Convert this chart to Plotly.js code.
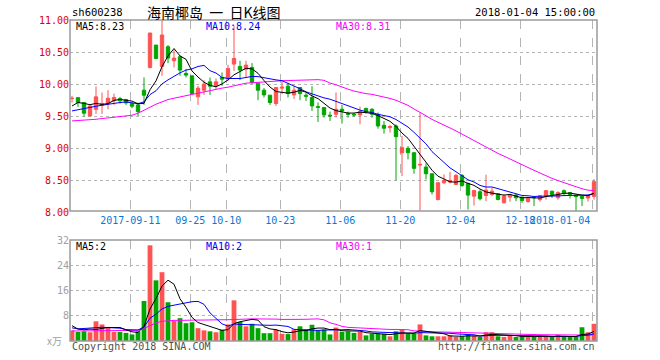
<!DOCTYPE html>
<html>
<head>
<meta charset="utf-8">
<script src="https://cdn.plot.ly/plotly-3.0.1.min.js"></script>
<style>html,body{margin:0;padding:0;background:#fff;}#chart{width:660px;height:360px;}</style>
</head>
<body>
<div id="chart"></div>
<script>
// ---- data ----
const dates = [
 '2017-08-28','2017-08-29','2017-08-30','2017-08-31','2017-09-01','2017-09-04','2017-09-05','2017-09-06','2017-09-07','2017-09-08',
 '2017-09-11','2017-09-12','2017-09-13','2017-09-14','2017-09-15','2017-09-18','2017-09-19','2017-09-20','2017-09-21','2017-09-22',
 '2017-09-25','2017-09-26','2017-09-27','2017-09-28','2017-09-29','2017-10-09','2017-10-10','2017-10-11','2017-10-12','2017-10-13',
 '2017-10-16','2017-10-17','2017-10-18','2017-10-19','2017-10-20','2017-10-23','2017-10-24','2017-10-25','2017-10-26','2017-10-27',
 '2017-10-30','2017-10-31','2017-11-01','2017-11-02','2017-11-03','2017-11-06','2017-11-07','2017-11-08','2017-11-09','2017-11-10',
 '2017-11-13','2017-11-14','2017-11-15','2017-11-16','2017-11-17','2017-11-20','2017-11-21','2017-11-22','2017-11-23','2017-11-24',
 '2017-11-27','2017-11-28','2017-11-29','2017-11-30','2017-12-01','2017-12-04','2017-12-05','2017-12-06','2017-12-07','2017-12-08',
 '2017-12-11','2017-12-12','2017-12-13','2017-12-14','2017-12-15','2017-12-18','2017-12-19','2017-12-20','2017-12-21','2017-12-22',
 '2017-12-25','2017-12-26','2017-12-27','2017-12-28','2017-12-29','2018-01-02','2018-01-03','2018-01-04'];

const openP = [9.776,9.79,9.714,9.505,9.609,9.672,9.698,9.740,9.776,9.760,
 9.698,9.677,9.906,10.260,10.609,10.276,10.583,10.365,10.427,10.167,
 10.130,9.802,9.906,10.036,9.974,10.104,10.089,10.313,10.276,10.234,
 10.26,10.016,9.906,9.828,9.698,9.938,9.969,9.833,9.948,9.828,
 9.792,9.65,9.635,9.516,9.531,9.609,9.542,9.531,9.521,9.62,
 9.609,9.531,9.359,9.323,9.349,8.932,9.0,8.932,8.74,8.708,
 8.604,8.203,8.464,8.474,8.437,8.578,8.453,8.255,8.323,8.266,
 8.281,8.292,8.151,8.24,8.271,8.24,8.172,8.234,8.20,8.25,
 8.33,8.23,8.34,8.31,8.27,8.25,8.225,8.25];
const highP = [9.818,9.79,9.72,9.67,9.964,9.870,9.906,9.854,9.802,9.771,
 9.714,9.714,10.105,10.80,10.61,11.0,10.609,10.531,10.443,10.234,
 10.13,9.974,10.0625,10.104,10.088,10.182,10.302,10.911,10.365,10.365,
 10.328,10.016,9.938,9.828,9.948,10.042,10.02,9.974,9.948,9.87,
 9.969,9.714,9.64,9.573,9.870,9.677,9.573,9.55,9.651,9.635,
 9.625,9.557,9.427,9.365,9.375,9.193,9.036,8.932,9.557,8.766,
 8.604,8.464,8.594,8.635,8.6,8.6,8.464,8.344,8.359,8.589,
 8.385,8.292,8.281,8.281,8.292,8.24,8.234,8.255,8.27,8.35,
 8.345,8.33,8.36,8.32,8.28,8.26,8.28,8.52];
const lowP = [9.714,9.646,9.495,9.50,9.536,9.536,9.609,9.677,9.698,9.677,
 9.625,9.505,9.678,10.245,10.39,10.130,10.328,10.260,10.13,10.104,
 9.83,9.677,9.833,9.833,9.922,9.974,10.052,10.208,10.063,10.104,
 10.0,9.75,9.792,9.677,9.661,9.844,9.792,9.77,9.75,9.74,
 9.583,9.411,9.479,9.427,9.479,9.385,9.479,9.49,9.375,9.542,
 9.479,9.307,9.229,9.245,8.5,8.568,8.828,8.604,8.03,8.516,
 8.281,8.188,8.443,8.453,8.43,8.4,8.047,8.109,8.188,8.177,
 8.255,8.188,8.141,8.167,8.177,8.151,8.151,8.1,8.17,8.2,
 8.225,8.2,8.26,8.22,8.02,8.1,8.17,8.2];
const closeP = [9.78,9.714,9.547,9.661,9.802,9.698,9.781,9.792,9.740,9.708,
 9.656,9.573,9.828,10.797,10.401,10.766,10.406,10.406,10.219,10.141,
 9.854,9.938,10.0,9.969,10.036,10.078,10.245,10.401,10.219,10.297,
 10.026,9.906,9.833,9.714,9.948,9.953,9.854,9.906,9.854,9.813,
 9.661,9.64,9.521,9.505,9.609,9.583,9.531,9.521,9.573,9.573,
 9.531,9.349,9.313,9.339,9.182,9.01,8.932,8.688,8.75,8.604,
 8.323,8.464,8.5,8.5,8.578,8.422,8.271,8.344,8.214,8.349,
 8.333,8.203,8.255,8.27,8.229,8.188,8.224,8.229,8.26,8.34,
 8.28,8.31,8.30,8.28,8.25,8.22,8.26,8.48];
// volume in 10k shares (万)
const volume = [3.4,2.9,3.1,2.8,6.3,5.3,4.2,2.9,2.9,2.6,
 2.1,3.1,12.8,30.6,19.4,22.0,12.4,6.4,7.3,5.7,
 6.0,4.1,3.4,3.1,2.8,3.6,5.3,13.0,6.1,4.7,
 5.5,4.1,2.5,2.5,3.6,2.3,2.2,3.7,4.7,3.7,
 5.2,3.4,3.7,2.1,4.3,2.9,3.1,2.6,2.9,1.8,
 2.3,2.3,2.3,1.5,3.1,3.6,2.3,2.3,5.3,1.8,
 1.5,1.5,1.5,1.8,1.3,1.5,2.1,1.7,1.3,2.8,
 2.8,1.5,1.3,1.7,1.3,1.3,1.7,1.3,1.7,1.3,
 1.3,2.0,1.3,1.3,1.3,4.4,2.8,5.5];
// moving-average values before enough history exists
const ma5Head = [9.66,9.714,9.70,9.68];
const ma10Head = [9.583,9.604,9.625,9.64,9.656,9.672,9.688,9.70,9.714];
const ma30Head = [9.427,9.432,9.443,9.448,9.453,9.464,9.469,9.484,9.495,9.505,
 9.516,9.547,9.594,9.646,9.688,9.724,9.760,9.781,9.802,9.823,
 9.839,9.854,9.880,9.901,9.917,9.938,9.953,9.969,9.995];
const vma5Head = [4.9,3.8,3.6,3.8];
const vma10Head = [4.2,3.9,4.0,4.2,4.3,4.4,4.3,4.2,4.1];
const vma30Head = [3.2,3.2,3.2,3.2,3.2,3.2,3.2,3.2,3.2,3.2,3.3,3.4,4.0,5.0,5.8,6.3,6.5,6.6,6.6,6.7,6.7,6.7,6.7,6.8,6.8,6.8,6.8,6.8,6.9];
const tickDates = ['2017-09-11','2017-09-25','2017-10-10','2017-10-23','2017-11-06','2017-11-20','2017-12-04','2017-12-18','2018-01-04'];
const tickText = ['2017-09-11','09-25','10-10','10-23','11-06','11-20','12-04','12-18','2018-01-04'];
const priceTicks = [8.0,8.5,9.0,9.5,10.0,10.5,11.0];
const volTicks = [8,16,24,32];
const labels = {code:'sh600238', title:'海南椰岛\u00a0\u00a0一\u00a0\u00a0日K线图', time:'2018-01-04 15:00:00',
  ma5:'MA5:8.23', ma10:'MA10:8.24', ma30:'MA30:8.31', vma5:'MA5:2', vma10:'MA10:2', vma30:'MA30:1',
  unit:'x万', copy:'Copyright 2018 SINA.COM', url:'http://finance.sina.com.cn'};

// ---- build ----
const RED = '#ff5252', GREEN = '#00a600';
const idx = dates.map((d,i)=>i);
function movAvg(arr, n, head){
  return arr.map((v,i)=>{
    if(i < n-1) return head[i];
    let s=0; for(let k=i-n+1;k<=i;k++) s+=arr[k];
    return s/n;
  });
}
const ma5 = movAvg(closeP,5,ma5Head), ma10 = movAvg(closeP,10,ma10Head), ma30 = movAvg(closeP,30,ma30Head);
const vma5 = movAvg(volume,5,vma5Head), vma10 = movAvg(volume,10,vma10Head), vma30 = movAvg(volume,30,vma30Head);
const volColors = idx.map(i => closeP[i] >= openP[i] ? RED : GREEN);
const tickPos = tickDates.map(d => dates.indexOf(d) - 0.28);
// the last date label sits inside the plot, right-aligned to its grid line
const tickShown = tickText.map((t,k)=> k === tickText.length-1 ? '' : t);

const mono = 'DejaVu Sans Mono, Liberation Mono, monospace';
const W = 660, H = 360, L = 70, R = 597, T = 20, B = 341;
const px = x => (x - L)/(R - L);
const py = y => (B - y)/(B - T);
const xToPaper = v => (v - (-0.333))/(87.5 - (-0.333));

const traces = [
  {type:'candlestick', x:idx, open:openP, high:highP, low:lowP, close:closeP, xaxis:'x', yaxis:'y',
   increasing:{line:{color:RED,width:1}, fillcolor:RED}, decreasing:{line:{color:GREEN,width:1}, fillcolor:GREEN},
   whiskerwidth:0, hoverinfo:'skip', showlegend:false},
  {type:'scatter', mode:'lines', x:idx, y:ma30, line:{color:'#ff00ff',width:1}, xaxis:'x', yaxis:'y', hoverinfo:'skip', showlegend:false},
  {type:'scatter', mode:'lines', x:idx, y:ma10, line:{color:'#0000ff',width:1}, xaxis:'x', yaxis:'y', hoverinfo:'skip', showlegend:false},
  {type:'scatter', mode:'lines', x:idx, y:ma5, line:{color:'#000000',width:1}, xaxis:'x', yaxis:'y', hoverinfo:'skip', showlegend:false},
  {type:'bar', x:idx, y:volume, marker:{color:volColors, line:{width:0}}, width:0.8, xaxis:'x', yaxis:'y2', hoverinfo:'skip', showlegend:false},
  {type:'scatter', mode:'lines', x:idx, y:vma30, line:{color:'#ff00ff',width:1}, xaxis:'x', yaxis:'y2', hoverinfo:'skip', showlegend:false},
  {type:'scatter', mode:'lines', x:idx, y:vma10, line:{color:'#0000ff',width:1}, xaxis:'x', yaxis:'y2', hoverinfo:'skip', showlegend:false},
  {type:'scatter', mode:'lines', x:idx, y:vma5, line:{color:'#000000',width:1}, xaxis:'x', yaxis:'y2', hoverinfo:'skip', showlegend:false}
];

function ann(text, x, y, color, anchor, size, family){
  return {text:text, xref:'paper', yref:'paper', x:px(x), y:py(y), xanchor:anchor||'left', yanchor:'middle',
    showarrow:false, font:{family:family||mono, size:size||10, color:color||'#000'}};
}

const lastTick = {text:tickText[tickText.length-1], xref:'paper', yref:'paper',
  x:xToPaper(tickPos[tickPos.length-1]), y:py(220.5), xanchor:'right', yanchor:'middle', showarrow:false,
  font:{family:mono, size:10, color:'#0a78d2'}};

const layout = {
  width:W, height:H, margin:{l:L, r:W-R, t:T, b:H-B, pad:0},
  paper_bgcolor:'#fff', plot_bgcolor:'#fff', showlegend:false, boxgap:0.2,
  xaxis:{range:[-0.333, 87.5], tickmode:'array', tickvals:tickPos, ticktext:tickShown, anchor:'y',
    tickfont:{family:mono, size:10, color:'#0a78d2'}, ticks:'', showgrid:true, gridcolor:'#b4b4b4', griddash:'dash', gridwidth:1,
    zeroline:false, showline:false, rangeslider:{visible:false}, fixedrange:true},
  yaxis:{domain:[py(212.5), 1], range:[8.0, 11.0], tickmode:'array', tickvals:priceTicks, tickformat:'.2f',
    tickfont:{family:mono, size:10, color:'#e00000'}, ticks:'', showgrid:true, gridcolor:'#b4b4b4', griddash:'dot',
    zeroline:false, showline:false},
  yaxis2:{domain:[0, py(240)], range:[0, 32.3], tickmode:'array', tickvals:volTicks, anchor:'x',
    tickfont:{family:mono, size:10, color:'#a0a0a0'}, ticks:'', showgrid:true, gridcolor:'#b4b4b4', griddash:'dot',
    zeroline:false, showline:false},
  shapes:[
    {type:'rect', xref:'paper', yref:'paper', x0:0, x1:1, y0:py(211), y1:1, line:{color:'#9a9a9a', width:1.5}},
    {type:'rect', xref:'paper', yref:'paper', x0:0, x1:1, y0:0, y1:py(240), line:{color:'#9a9a9a', width:1.5}}
  ],
  annotations:[
    lastTick,
    ann(labels.code, 70, 12, '#000', 'left', 10.5),
    ann(labels.title, 214, 12, '#000', 'center', 14, 'Noto Sans CJK SC'),
    ann(labels.time, 597, 12, '#000', 'right', 10.5),
    ann(labels.ma5, 74, 26, '#000', 'left'),
    ann(labels.ma10, 204, 26, '#0000ff', 'left'),
    ann(labels.ma30, 334, 26, '#ff00ff', 'left'),
    ann(labels.vma5, 74, 246, '#000', 'left'),
    ann(labels.vma10, 204, 246, '#0000ff', 'left'),
    ann(labels.vma30, 334, 246, '#ff00ff', 'left'),
    ann(labels.unit, 64, 340, '#a0a0a0', 'right', 10, 'Noto Sans CJK SC'),
    ann(labels.copy, 70, 346.5, '#505050', 'left'),
    ann(labels.url, 597, 346.5, '#505050', 'right')
  ]
};
Plotly.newPlot('chart', traces, layout, {staticPlot:true, displayModeBar:false});
</script>
</body>
</html>
